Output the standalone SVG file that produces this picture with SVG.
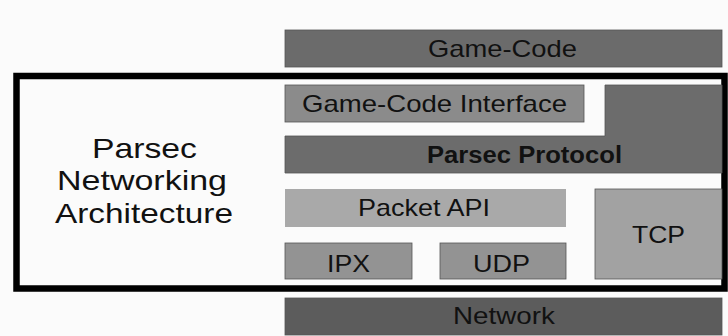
<svg xmlns="http://www.w3.org/2000/svg" width="728" height="336" viewBox="0 0 728 336">
  <style>
    .lbl { font-family: "Liberation Sans", Arial, sans-serif; font-size: 24px; fill: #111; text-anchor: start; }
    .title { font-family: "Liberation Sans", Arial, sans-serif; font-size: 28px; fill: #111; }
    .edge { stroke: #555; stroke-width: 0.8; }
  </style>
  <rect width="728" height="336" fill="#fbfbfb"/>

  <g id="game-code">
    <rect class="edge" x="285" y="30" width="437" height="37" fill="#6b6b6b"/>
    <text class="lbl" x="428" y="57" textLength="149" lengthAdjust="spacingAndGlyphs">Game-Code</text>
  </g>

  <!-- outer frame of the networking architecture -->
  <g id="architecture-frame">
    <rect x="16.5" y="76" width="708" height="212.5" fill="none" stroke="#000" stroke-width="6.5"/>
    <text class="title" x="92" y="158" textLength="105" lengthAdjust="spacingAndGlyphs">Parsec</text>
    <text class="title" x="57" y="190" textLength="170" lengthAdjust="spacingAndGlyphs">Networking</text>
    <text class="title" x="55" y="223" textLength="178" lengthAdjust="spacingAndGlyphs">Architecture</text>
  </g>

  <g id="game-code-interface">
    <rect class="edge" x="285" y="85" width="299" height="37" fill="#8b8b8b"/>
    <text class="lbl" x="302" y="112" font-size="22.5" textLength="265" lengthAdjust="spacingAndGlyphs">Game-Code Interface</text>
  </g>

  <g id="parsec-protocol">
    <path class="edge" d="M285,136 H605 V85 H722 V173 H285 Z" fill="#6c6c6c"/>
    <text class="lbl" x="427" y="163" font-size="22" font-weight="bold" textLength="195" lengthAdjust="spacingAndGlyphs">Parsec Protocol</text>
  </g>

  <g id="packet-api">
    <rect x="285" y="189" width="281" height="38" fill="#a9a9a9"/>
    <text class="lbl" x="358" y="216" textLength="132" lengthAdjust="spacingAndGlyphs">Packet API</text>
  </g>

  <g id="tcp">
    <rect class="edge" x="595" y="189" width="127" height="90" fill="#a2a2a2"/>
    <text class="lbl" x="632" y="243" textLength="53" lengthAdjust="spacingAndGlyphs">TCP</text>
  </g>

  <g id="ipx">
    <rect class="edge" x="285" y="243" width="127" height="36" fill="#939393"/>
    <text class="lbl" x="327" y="272" textLength="43" lengthAdjust="spacingAndGlyphs">IPX</text>
  </g>

  <g id="udp">
    <rect class="edge" x="440" y="243" width="126" height="36" fill="#939393"/>
    <text class="lbl" x="473" y="272" textLength="57" lengthAdjust="spacingAndGlyphs">UDP</text>
  </g>

  <g id="network">
    <rect class="edge" x="285" y="298" width="437" height="37" fill="#5c5c5c"/>
    <text class="lbl" x="453" y="324" textLength="102" lengthAdjust="spacingAndGlyphs">Network</text>
  </g>
</svg>
